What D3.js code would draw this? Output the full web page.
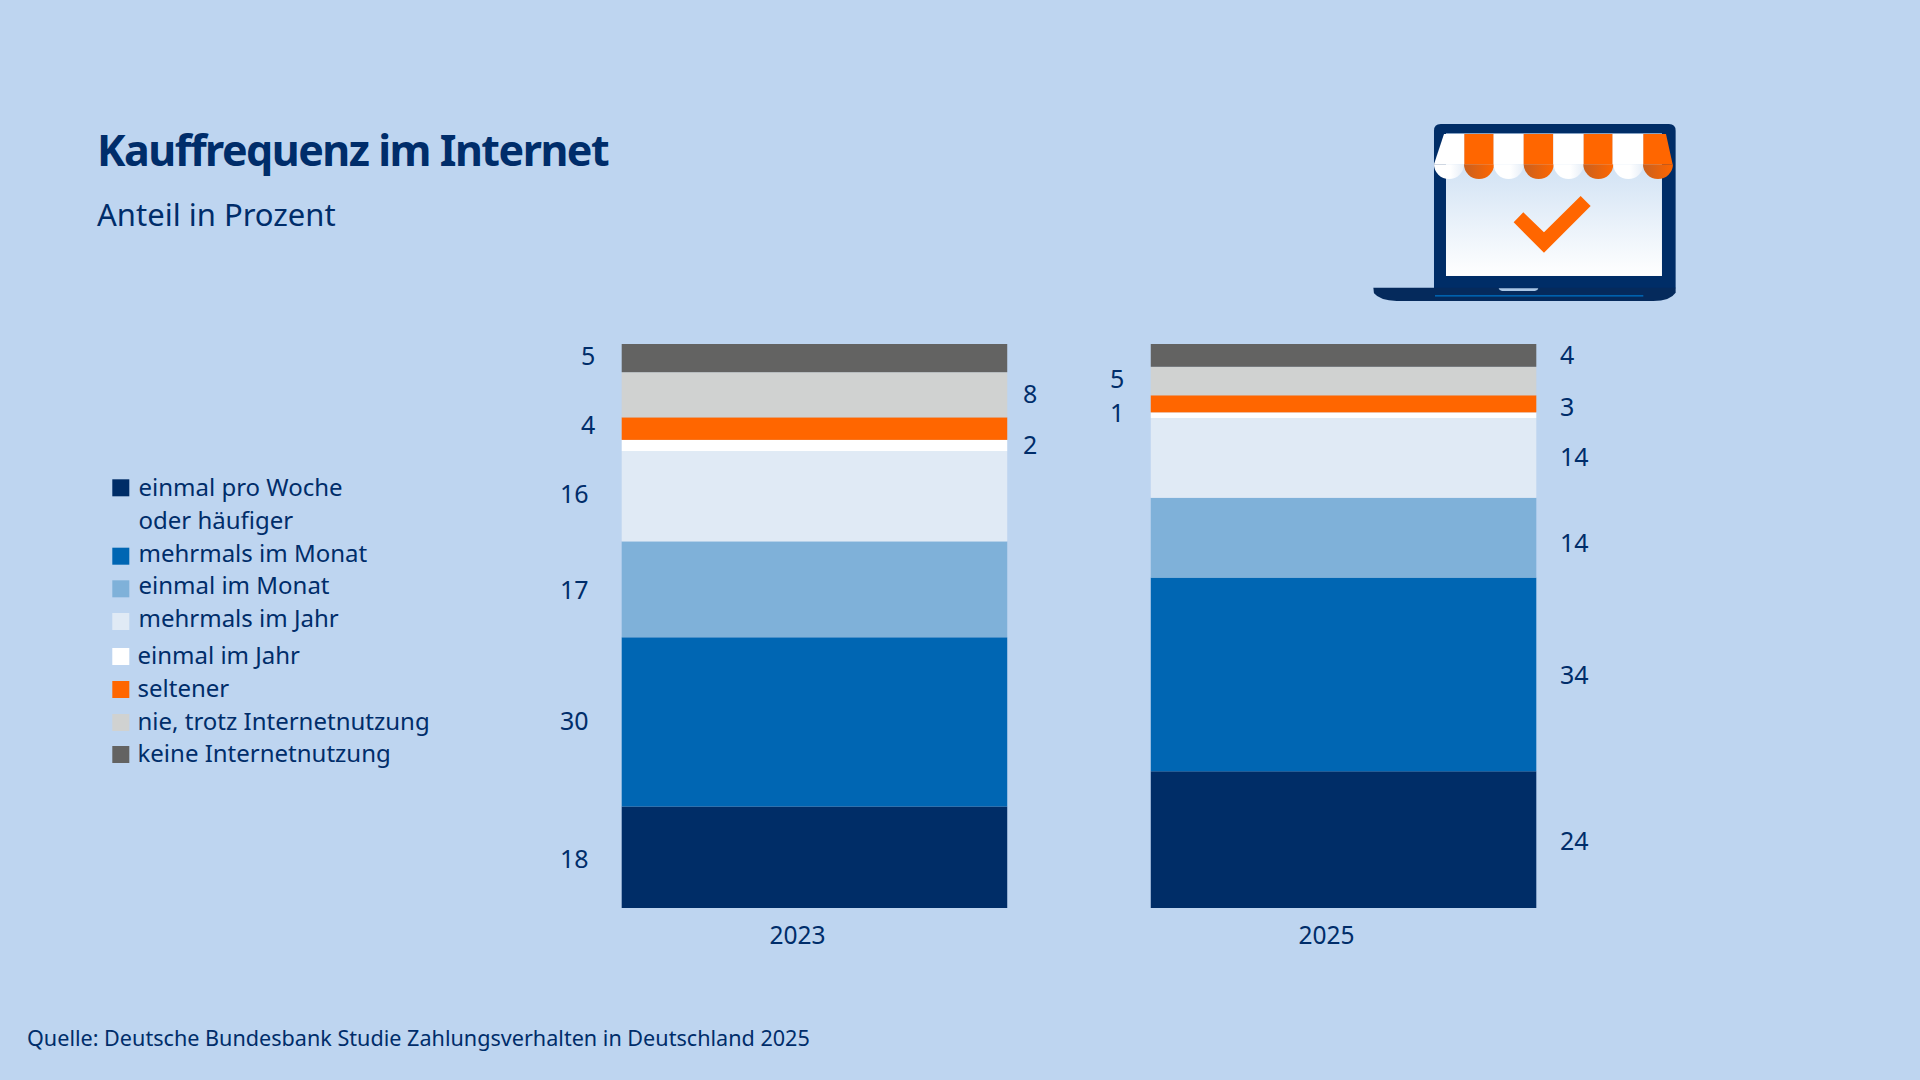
<!DOCTYPE html>
<html>
<head>
<meta charset="utf-8">
<script src="https://cdn.jsdelivr.net/npm/d3@7"></script>
<style>
  html, body { margin: 0; padding: 0; background: #bed5f0; }
  svg { display: block; }
  text { font-family: "Noto Sans", sans-serif; fill: #002d6a; }
  .tick line, .domain { display: none; }
</style>
</head>
<body>
<svg width="1920" height="1080"></svg>
<script>
// data
const years = [2023, 2025];
const categories = ['einmal pro Woche oder häufiger', 'mehrmals im Monat', 'einmal im Monat', 'mehrmals im Jahr',
  'einmal im Jahr', 'seltener', 'nie, trotz Internetnutzung', 'keine Internetnutzung'];
const values2023 = [18, 30, 17, 16, 2, 4, 8, 5];
const values2025 = [24, 34, 14, 14, 1, 3, 5, 4];
const colors = ['#002d67', '#0066b3', '#7fb1d9', '#e0eaf5', '#ffffff', '#ff6600', '#d0d2d1', '#636362'];

const svg = d3.select('svg');

// title
svg.append('text').attr('x', 97).attr('y', 166)
  .style('font-size', '43px').style('font-weight', 700).style('letter-spacing', '-1.5px')
  .text('Kauffrequenz im Internet');
svg.append('text').attr('x', 97).attr('y', 226)
  .style('font-size', '31px').text('Anteil in Prozent');
svg.append('text').attr('x', 27).attr('y', 1046)
  .style('font-size', '21.6px').text('Quelle: Deutsche Bundesbank Studie Zahlungsverhalten in Deutschland 2025');

// bars
const x = d3.scaleBand().domain(years).range([621.7, 1536.3]).paddingInner(0.2713);
const yTop = 344, yBottom = 908;

// label placement per bar, bottom to top: side of the bar and small nudge
const labelLayout = {
  2023: [['l', 2], ['l', -1], ['l', 1], ['l', -2], ['r', -1], ['l', -4], ['r', -1], ['l', -2]],
  2025: [['r', 1], ['r', 1], ['r', 5], ['r', -1], ['l', -2], ['r', 3], ['l', -2], ['r', 0]]
};
const labelX = {
  2023: { l1: 581, l2: 560, r: 1023 },
  2025: { l1: 1110, l2: 1110, r: 1560 }
};

function drawBar(year, values) {
  const y = d3.scaleLinear().domain([0, d3.sum(values)]).range([yBottom, yTop]);
  const stack = d3.stack().keys(d3.range(values.length))([values]);
  const g = svg.append('g');

  g.selectAll('rect').data(stack).join('rect')
    .attr('x', x(year))
    .attr('width', x.bandwidth())
    .attr('y', d => y(d[0][1]))
    .attr('height', d => y(d[0][0]) - y(d[0][1]))
    .attr('fill', (d, i) => colors[i]);

  g.selectAll('text').data(stack).join('text')
    .attr('x', (d, i) => {
      if (labelLayout[year][i][0] === 'r') return labelX[year].r;
      return values[i] >= 10 ? labelX[year].l2 : labelX[year].l1;
    })
    .attr('y', (d, i) => (y(d[0][0]) + y(d[0][1])) / 2 + labelLayout[year][i][1])
    .attr('dy', '0.36em')
    .style('font-size', '25px')
    .text((d, i) => values[i]);
}
drawBar(2023, values2023);
drawBar(2025, values2025);

// year axis, the labels sit a bit left of the bar centres
const axis = svg.append('g').attr('transform', 'translate(0,' + yBottom + ')')
  .call(d3.axisBottom(x).tickValues(years).tickFormat(d3.format('d')).tickSize(0));
axis.selectAll('text')
  .attr('x', -17)
  .attr('y', 0).attr('dy', '36px')
  .style('font-size', '24.5px');

// legend
const legendSwatchY = [479.3, 547.7, 580.3, 613, 648, 681, 714, 746];
const legendTextY = [495.5, 561.5, 594, 627, 663.5, 696.5, 729.5, 762];
const legend = svg.append('g');
legend.selectAll('rect').data(categories).join('rect')
  .attr('x', 112.3).attr('width', 17).attr('height', 17)
  .attr('y', (d, i) => legendSwatchY[i])
  .attr('fill', (d, i) => colors[i]);
legend.selectAll('text.entry').data(categories).join('text')
  .attr('class', 'entry')
  .attr('x', (d, i) => i < 4 ? 138.5 : 137.5)
  .attr('y', (d, i) => legendTextY[i])
  .style('font-size', '24px')
  .text((d, i) => i === 0 ? 'einmal pro Woche' : d);
legend.append('text').attr('x', 138.5).attr('y', 528.8)
  .style('font-size', '24px').text('oder häufiger');

// shop icon, drawn in units of a 3x crop
const defs = svg.append('defs');
const screenGrad = defs.append('linearGradient').attr('id', 'screenGrad')
  .attr('x1', 0).attr('x2', 0).attr('y1', 0).attr('y2', 1);
screenGrad.append('stop').attr('offset', '0%').attr('stop-color', '#c4daf1');
screenGrad.append('stop').attr('offset', '100%').attr('stop-color', '#ffffff');
const shade = defs.append('linearGradient').attr('id', 'orangeShade')
  .attr('x1', 0).attr('x2', 1).attr('y1', 0).attr('y2', 0);
shade.append('stop').attr('offset', '0%').attr('stop-color', '#c9601f');
shade.append('stop').attr('offset', '100%').attr('stop-color', '#ff6600');
const whiteShade = defs.append('linearGradient').attr('id', 'whiteShade')
  .attr('x1', 0).attr('x2', 1).attr('y1', 0).attr('y2', 0);
whiteShade.append('stop').attr('offset', '55%').attr('stop-color', '#ffffff');
whiteShade.append('stop').attr('offset', '100%').attr('stop-color', '#e6eef8');

const icon = svg.append('g').attr('transform', 'translate(1360,110) scale(0.3333)');
icon.append('path').attr('fill', '#002d67')
  .attr('d', 'M222,535 V62 Q222,42 242,42 H927 Q947,42 947,62 V535 Z');
icon.append('rect').attr('x', 258).attr('y', 70).attr('width', 648).attr('height', 428)
  .attr('fill', 'url(#screenGrad)');
icon.append('path').attr('fill', '#052a5c')
  .attr('d', 'M40,533 H947 V548 Q930,573 880,573 H110 Q60,572 42,550 Z');
icon.append('path').attr('fill', '#a9c6e6').attr('d', 'M416,535 H535 Q533,543 525,543 H426 Q418,543 416,535 Z');
icon.append('rect').attr('x', 225).attr('y', 555).attr('width', 625).attr('height', 5).attr('fill', '#0061ad');

// awning
const awningEdges = [313, 401, 491, 580, 671, 758, 850];
const awningCentres = [267, 357, 446, 536, 626, 715, 805, 894];
const awningTopEdges = [252].concat(awningEdges, [918]);
const awningBottomEdges = [222].concat(awningEdges, [938]);
const awning = icon.append('g');
awningCentres.forEach((cx, i) => {
  const orange = i % 2 === 1;
  awning.append('path')
    .attr('fill', orange ? '#ff6600' : '#ffffff')
    .attr('d', 'M' + awningTopEdges[i] + ',72 H' + awningTopEdges[i + 1] +
      ' L' + awningBottomEdges[i + 1] + ',163 H' + awningBottomEdges[i] + ' Z');
  awning.append('path')
    .attr('fill', orange ? 'url(#orangeShade)' : 'url(#whiteShade)')
    .attr('d', 'M' + (cx - 45) + ',163 A45,44 0 0 0 ' + (cx + 45) + ',163 Z');
});

// check mark
icon.append('path').attr('fill', '#ff6600')
  .attr('d', 'M490,307 L552,367 L662,258 L692,288 L552,428 L461,337 Z');
</script>
</body>
</html>
